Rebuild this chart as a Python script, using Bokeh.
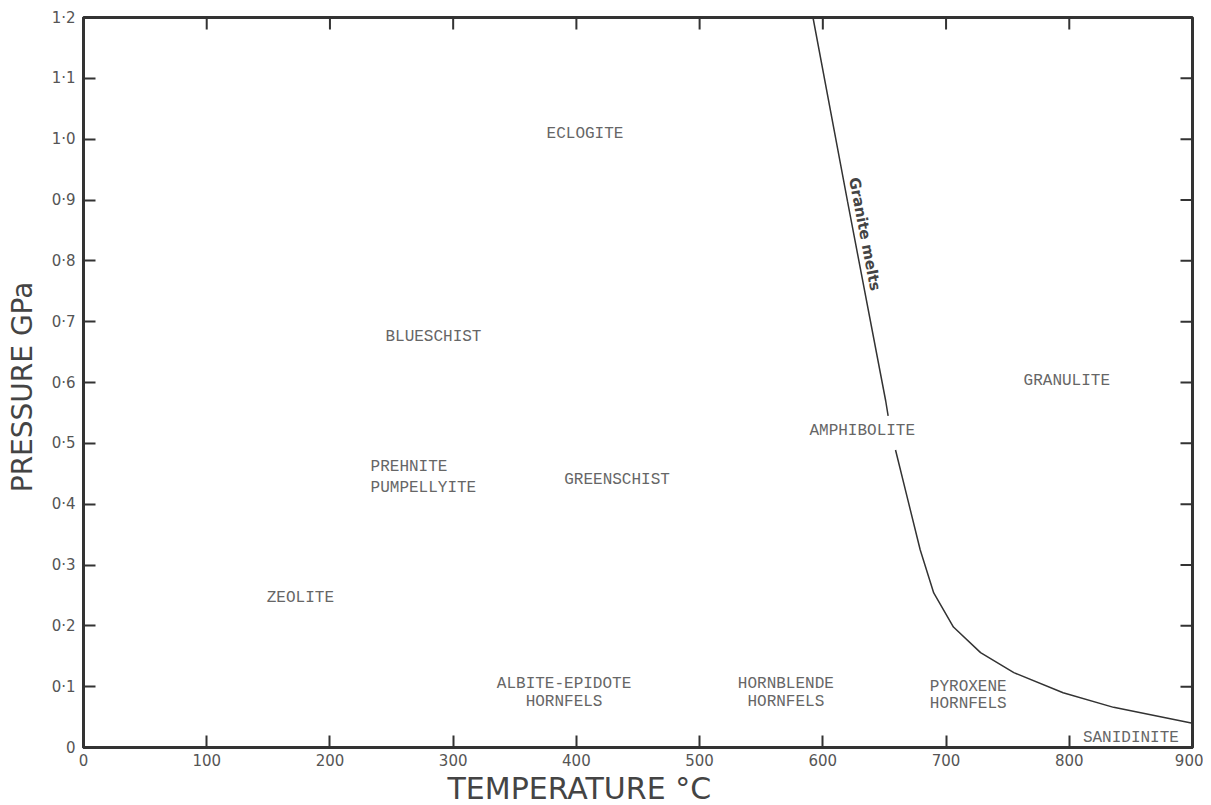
import math
from bokeh.plotting import figure
from bokeh.models import FixedTicker, Range1d, ColumnDataSource, Title
from bokeh.core.properties import value
from bokeh.embed import file_html
from bokeh.resources import INLINE

# ---- data ----
x_ticks = [0, 100, 200, 300, 400, 500, 600, 700, 800, 900]
x_tick_labels = ["0", "100", "200", "300", "400", "500", "600", "700", "800", "900"]
y_ticks = [0, 0.1, 0.2, 0.3, 0.4, 0.5, 0.6, 0.7, 0.8, 0.9, 1.0, 1.1, 1.2]
y_tick_labels = ["0", "0·1", "0·2", "0·3", "0·4", "0·5", "0·6", "0·7", "0·8", "0·9", "1·0", "1·1", "1·2"]
x_title = "TEMPERATURE °C"
y_title = "PRESSURE  GPa"

# granite melting curve (two pieces, broken around the AMPHIBOLITE label)
melt_upper_T = [592, 620, 651, 653]
melt_upper_P = [1.2, 0.898, 0.57, 0.545]
melt_lower_T = [659, 669, 679, 690, 706, 728, 755, 795, 836, 900]
melt_lower_P = [0.489, 0.407, 0.325, 0.254, 0.198, 0.156, 0.123, 0.090, 0.066, 0.040]

# facies labels (centred)
facies_text = ["ECLOGITE", "BLUESCHIST", "GREENSCHIST", "ZEOLITE", "AMPHIBOLITE", "GRANULITE",
               "ALBITE-EPIDOTE", "HORNFELS", "HORNBLENDE", "HORNFELS", "PYROXENE", "HORNFELS",
               "SANIDINITE"]
facies_T = [407, 284, 433, 176, 632, 798, 390, 390, 570, 570, 718, 718, 850]
facies_P = [1.008, 0.675, 0.439, 0.246, 0.52, 0.602, 0.105, 0.074, 0.105, 0.074, 0.100, 0.071, 0.016]
# left-aligned label
prehnite_text = ["PREHNITE", "PUMPELLYITE"]
prehnite_T = [233, 233]
prehnite_P = [0.461, 0.426]

melt_label = ["Granite melts"]
melt_label_T = [634]
melt_label_P = [0.844]

X0, X1, Y0, Y1 = 0, 900, 0, 1.2

# ---- figure ----
p = figure(width=1203, height=805, output_backend="svg", toolbar_location=None,
           x_range=Range1d(X0, X1), y_range=Range1d(Y0, Y1),
           min_border_left=83, min_border_right=11, min_border_top=17, min_border_bottom=57)
p.grid.visible = False
p.outline_line_color = "#333333"
p.outline_line_width = 3
p.background_fill_color = "white"
p.border_fill_color = "white"

p.xaxis.ticker = FixedTicker(ticks=x_ticks)
p.xaxis.major_label_overrides = dict(zip(x_ticks, x_tick_labels))
p.yaxis.ticker = FixedTicker(ticks=y_ticks)
p.yaxis.major_label_overrides = dict(zip(y_ticks, y_tick_labels))
p.yaxis.axis_label = y_title
p.yaxis.axis_label_text_font = "DejaVu Sans"
p.yaxis.axis_label_text_font_style = "normal"
p.yaxis.axis_label_text_font_size = "28px"
p.yaxis.axis_label_text_color = "#444444"
p.yaxis.axis_label_standoff = 10

for ax in list(p.xaxis) + list(p.yaxis):
    ax.major_tick_in = 12
    ax.major_tick_out = 0
    ax.minor_tick_line_color = None
    ax.major_tick_line_width = 2
    ax.major_tick_line_color = "#333333"
    ax.axis_line_color = "#333333"
    ax.axis_line_width = 3
    ax.major_label_text_font = "DejaVu Sans"
    ax.major_label_text_font_size = "15px"
    ax.major_label_text_color = "#555555"
p.xaxis.major_label_standoff = 6
p.yaxis.major_label_standoff = 8

# x title, shifted left as in the original
p.add_layout(Title(text=x_title, align="left", offset=364, standoff=0,
                   text_font="DejaVu Sans", text_font_size="30px",
                   text_font_style="normal", text_color="#444444"), "below")

# inward tick marks on the top and right edges of the frame
p.scatter(x=x_ticks, y=[Y1] * len(x_ticks), marker="dash", angle=math.pi / 2,
          size=24, line_color="#333333", line_width=2)
p.scatter(x=[X1] * len(y_ticks), y=y_ticks, marker="dash", size=24,
          line_color="#333333", line_width=2)

# melt curve
p.line(melt_upper_T, melt_upper_P, line_color="#333333", line_width=1.5)
p.line(melt_lower_T, melt_lower_P, line_color="#333333", line_width=1.5)

p.text(x=melt_label_T, y=melt_label_P, text=melt_label, angle=-79.2, angle_units="deg",
       text_font=value("DejaVu Sans"), text_font_size="15px", text_font_style="bold",
       text_color="#444444", text_align="center", text_baseline="middle")

src = ColumnDataSource(dict(x=facies_T, y=facies_P, text=facies_text))
p.text(x="x", y="y", text="text", source=src, text_font=value("Liberation Mono"),
       text_font_size="16px", text_color="#666666", text_align="center", text_baseline="middle")
src2 = ColumnDataSource(dict(x=prehnite_T, y=prehnite_P, text=prehnite_text))
p.text(x="x", y="y", text="text", source=src2, text_font=value("Liberation Mono"),
       text_font_size="16px", text_color="#666666", text_align="left", text_baseline="middle")

open("out.html", "w").write(file_html(p, INLINE))
